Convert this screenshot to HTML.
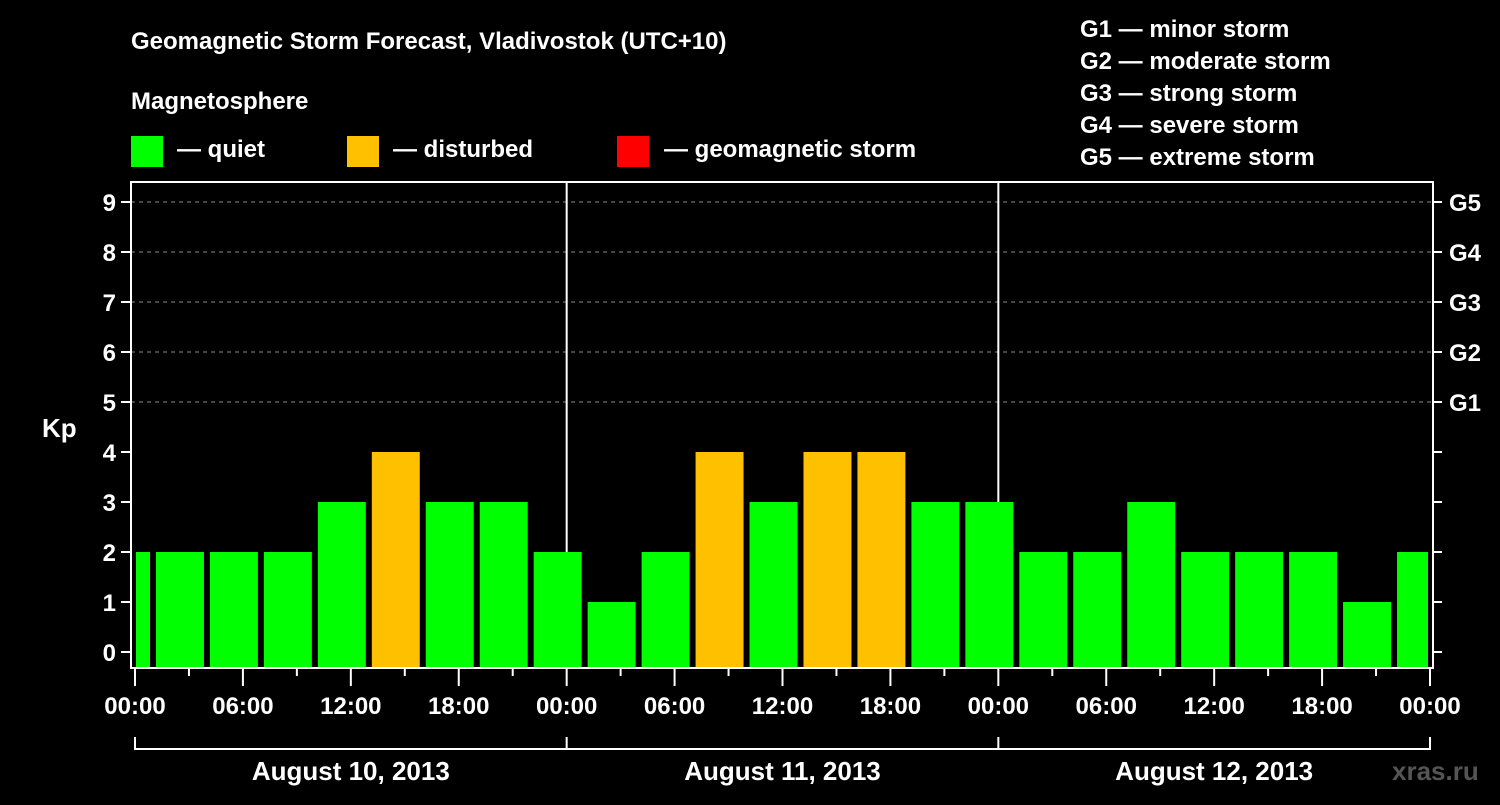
<!DOCTYPE html>
<html><head><meta charset="utf-8"><style>
body{margin:0;background:#000;}
svg text{font-family:"Liberation Sans",sans-serif;font-weight:bold;fill:#fff;}
</style></head><body>
<svg id="c" width="1500" height="800" viewBox="0 0 1500 800" xmlns="http://www.w3.org/2000/svg">
<rect width="1500" height="800" fill="#000"/>
<text x="131" y="49" font-size="24">Geomagnetic Storm Forecast, Vladivostok (UTC+10)</text>
<text x="131" y="109" font-size="24">Magnetosphere</text>
<g><rect x="131" y="136" width="32" height="31" fill="#00ff00"/><text x="177" y="157" font-size="24">— quiet</text></g>
<g><rect x="347" y="136" width="32" height="31" fill="#ffc000"/><text x="393" y="157" font-size="24">— disturbed</text></g>
<g><rect x="617" y="136" width="32" height="31" fill="#ff0000"/><text x="664" y="157" font-size="24">— geomagnetic storm</text></g>
<g font-size="24">
<text x="1080" y="37">G1 — minor storm</text><text x="1080" y="69">G2 — moderate storm</text><text x="1080" y="101">G3 — strong storm</text><text x="1080" y="133">G4 — severe storm</text><text x="1080" y="165">G5 — extreme storm</text>
</g>
<text x="42" y="437" font-size="26">Kp</text>
<g id="grid"></g><g id="bars"></g><g id="axes"></g>
<text x="1392" y="780" font-size="26" fill="#666" style="fill:#555">xras.ru</text>
</svg>
<script>
const values=[2,2,2,2,3,4,3,3,2,1,2,4,3,4,4,3,3,2,2,3,2,2,2,1,2];
const startHours=[-2,1,4,7,10,13,16,19,22,25,28,31,34,37,40,43,46,49,52,55,58,61,64,67,70];
const yTicks=[0,1,2,3,4,5,6,7,8,9];
const gLabels=["G1","G2","G3","G4","G5"];
const xTickLabels=["00:00","06:00","12:00","18:00","00:00","06:00","12:00","18:00","00:00","06:00","12:00","18:00","00:00"];
const dates=["August 10, 2013","August 11, 2013","August 12, 2013"];
const NS="http://www.w3.org/2000/svg";
const X0=135,X1=1430,L=131,R=1433,T=182,B=668;
const x=h=>X0+h*(X1-X0)/72;
const y=v=>652-50*v;
function mk(p,t,a){const e=document.createElementNS(NS,t);for(const k in a)e.setAttribute(k,a[k]);document.getElementById(p).appendChild(e);return e;}
yTicks.forEach(v=>{
 if(v>=5){let l=mk('grid','line',{x1:L,x2:R,y1:y(v),y2:y(v),stroke:'#888','stroke-dasharray':'4,4'});
 
 }
 let t=mk('axes','line',{x1:L-10,x2:L,y1:y(v),y2:y(v),stroke:'#fff','stroke-width':2});
 let r=mk('axes','line',{x1:R,x2:R+9,y1:y(v),y2:y(v),stroke:'#fff','stroke-width':2});
 let tx=mk('axes','text',{x:L-15,y:y(v)+9,'font-size':24,'text-anchor':'end'});tx.textContent=v;
 
 
});
gLabels.forEach((g,i)=>{let tx=mk('axes','text',{x:1449,y:y(5+i)+9,'font-size':24});tx.textContent=g;
 
 });
values.forEach((v,i)=>{
 let a=Math.max(x(startHours[i])+3,X0+1),b=Math.min(x(startHours[i]+3)-3,X1-2);
 let c=v>=5?'#ff0000':v>=4?'#ffc000':'#00ff00';
 let r=mk('bars','rect',{x:a,y:y(v),width:b-a,height:B-y(v),fill:c});
 
 
});
[1,2].forEach(d=>{let l=mk('grid','line',{x1:x(24*d),x2:x(24*d),y1:T,y2:B,stroke:'#fff','stroke-width':2});
 
 });
let fr=mk('axes','rect',{x:L,y:T,width:R-L,height:B-T,fill:'none',stroke:'#fff','stroke-width':2});


for(let h=0;h<=72;h+=3){mk('axes','line',{x1:x(h),x2:x(h),y1:B,y2:h%6==0?686:676,stroke:'#fff','stroke-width':2});}
xTickLabels.forEach((s,i)=>{let tx=mk('axes','text',{x:x(i*6),y:714,'font-size':24,'text-anchor':'middle'});tx.textContent=s;
 
 });
mk('axes','path',{d:`M${x(0)},737V749H${x(72)}V737M${x(24)},737V749M${x(48)},737V749`,fill:'none',stroke:'#fff','stroke-width':2});
dates.forEach((s,i)=>{let tx=mk('axes','text',{x:x(24*i+12),y:780,'font-size':26,'text-anchor':'middle'});tx.textContent=s;
 
 });
</script>
</body></html>
